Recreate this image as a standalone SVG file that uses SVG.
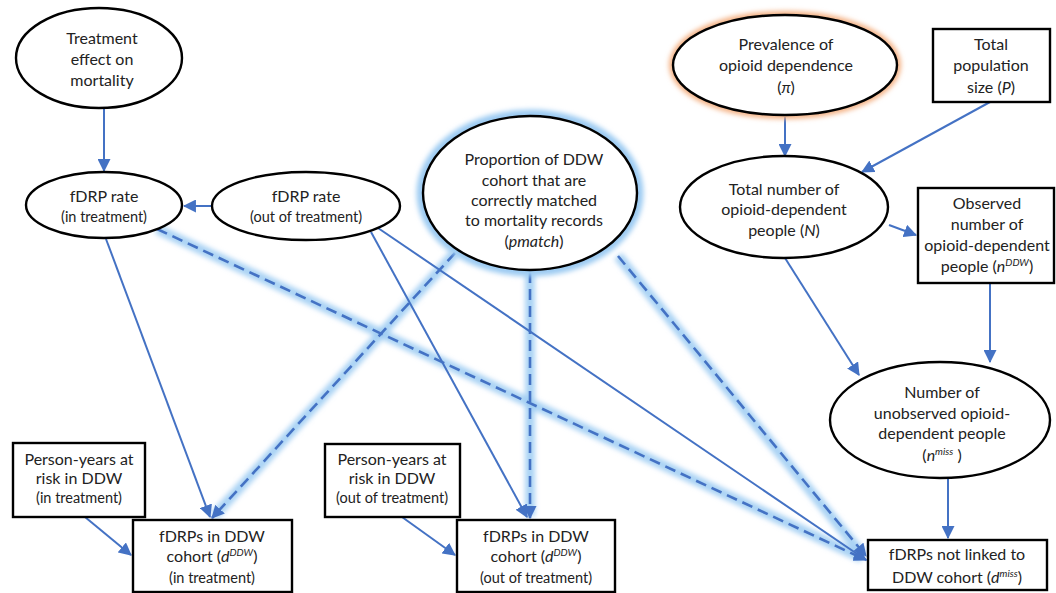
<svg xmlns="http://www.w3.org/2000/svg" width="1056" height="593" viewBox="0 0 1056 593">
<style>
  .node { fill: #ffffff; stroke: #000000; stroke-width: 2.4; }
  .t { font-family: Lato, "Liberation Sans", sans-serif; font-size: 16px; fill: #222222; text-anchor: middle; }
  .s { font-size: 14.5px; }
  .edge { fill: none; stroke: #4472C4; stroke-width: 2; }
  .dash { fill: none; stroke: #4472C4; stroke-width: 2.6; stroke-dasharray: 11 6; }
  .glow { fill: none; stroke: #9CCBF2; stroke-width: 10; opacity: 0.85; }
</style>
<defs>
  <marker id="arr" viewBox="0 0 12 12" refX="11" refY="6" markerWidth="13" markerHeight="13" markerUnits="userSpaceOnUse" orient="auto">
    <path d="M0,0 L12,6 L0,12 Z" fill="#4472C4"/>
  </marker>
  <filter id="blur" x="-20%" y="-20%" width="140%" height="140%">
    <feGaussianBlur stdDeviation="2.4"/>
  </filter>
</defs>

<g id="connectors">
  <g filter="url(#blur)">
    <line class="glow" x1="157" y1="229" x2="862" y2="558"/>
    <line class="glow" x1="455" y1="253" x2="214" y2="516"/>
    <line class="glow" x1="530" y1="272" x2="530" y2="516"/>
    <line class="glow" x1="618" y1="256" x2="862" y2="554"/>
  </g>
  <line class="edge" x1="104" y1="109" x2="104" y2="171" marker-end="url(#arr)"/>
  <line class="edge" x1="212" y1="206" x2="184" y2="206" marker-end="url(#arr)"/>
  <line class="edge" x1="785" y1="117" x2="785" y2="156" marker-end="url(#arr)"/>
  <line class="edge" x1="990" y1="102" x2="862" y2="172" marker-end="url(#arr)"/>
  <line class="edge" x1="889" y1="225" x2="916" y2="235" marker-end="url(#arr)"/>
  <line class="edge" x1="785" y1="258" x2="859" y2="375" marker-end="url(#arr)"/>
  <line class="edge" x1="990" y1="284" x2="990" y2="362" marker-end="url(#arr)"/>
  <line class="edge" x1="948" y1="479" x2="948" y2="538" marker-end="url(#arr)"/>
  <line class="edge" x1="106" y1="239" x2="210" y2="517" marker-end="url(#arr)"/>
  <line class="edge" x1="85" y1="517" x2="131" y2="555" marker-end="url(#arr)"/>
  <line class="edge" x1="402" y1="517" x2="455" y2="555" marker-end="url(#arr)"/>
  <line class="edge" x1="371" y1="232" x2="527" y2="517" marker-end="url(#arr)"/>
  <line class="edge" x1="378" y1="228" x2="866" y2="560" marker-end="url(#arr)"/>
  <line class="dash" x1="157" y1="229" x2="866" y2="560" marker-end="url(#arr)"/>
  <line class="dash" x1="455" y1="253" x2="212" y2="518" marker-end="url(#arr)"/>
  <line class="dash" x1="530" y1="272" x2="530" y2="518" marker-end="url(#arr)"/>
  <line class="dash" x1="618" y1="256" x2="866" y2="556" marker-end="url(#arr)"/>
</g>

<g id="treatment-effect">
  <ellipse class="node" cx="99" cy="58" rx="83" ry="50"/>
  <text class="t" x="102" y="44">Treatment</text>
  <text class="t" x="102" y="65">effect on</text>
  <text class="t" x="102" y="86">mortality</text>
</g>

<g id="fdrp-rate-in">
  <ellipse class="node" cx="104" cy="205" rx="78" ry="33"/>
  <text class="t" x="104" y="202">fDRP rate</text>
  <text class="t s" x="104" y="222">(in treatment)</text>
</g>

<g id="fdrp-rate-out">
  <ellipse class="node" cx="306" cy="206" rx="94" ry="34"/>
  <text class="t" x="306" y="202">fDRP rate</text>
  <text class="t s" x="306" y="222">(out of treatment)</text>
</g>

<g id="pmatch">
  <ellipse cx="530" cy="193" rx="108" ry="78" fill="none" stroke="#9CCBF2" stroke-width="11" filter="url(#blur)"/>
  <ellipse class="node" cx="530" cy="193" rx="107" ry="77"/>
  <text class="t" x="534" y="165">Proportion of DDW</text>
  <text class="t" x="534" y="186">cohort that are</text>
  <text class="t" x="534" y="206">correctly matched</text>
  <text class="t" x="534" y="226">to mortality records</text>
  <text class="t" x="534" y="247">(<tspan font-style="italic">pmatch</tspan>)</text>
</g>

<g id="prevalence">
  <ellipse cx="785" cy="65" rx="112" ry="50" fill="none" stroke="#F4B183" stroke-width="8" filter="url(#blur)"/>
  <ellipse class="node" cx="785" cy="65" rx="112" ry="50"/>
  <text class="t" x="786" y="50">Prevalence of</text>
  <text class="t" x="786" y="71">opioid dependence</text>
  <text class="t" x="786" y="93">(<tspan font-style="italic">π</tspan>)</text>
</g>

<g id="total-population">
  <rect class="node" x="933" y="29" width="117" height="73"/>
  <text class="t" x="991" y="50">Total</text>
  <text class="t" x="991" y="71">population</text>
  <text class="t" x="991" y="93">size (<tspan font-style="italic">P</tspan>)</text>
</g>

<g id="total-number">
  <ellipse class="node" cx="784" cy="207" rx="104" ry="51"/>
  <text class="t" x="784" y="195">Total number of</text>
  <text class="t" x="784" y="215">opioid-dependent</text>
  <text class="t" x="784" y="236">people (<tspan font-style="italic">N</tspan>)</text>
</g>

<g id="observed">
  <rect class="node" x="918" y="188" width="136" height="95"/>
  <text class="t" x="987" y="209">Observed</text>
  <text class="t" x="987" y="230">number of</text>
  <text class="t" x="987" y="251">opioid-dependent</text>
  <text class="t" x="987" y="272">people (<tspan font-style="italic">n<tspan font-size="10" dy="-6">DDW</tspan></tspan><tspan dy="6">)</tspan></text>
</g>

<g id="unobserved">
  <ellipse class="node" cx="940" cy="420" rx="110" ry="58"/>
  <text class="t" x="942" y="398">Number of</text>
  <text class="t" x="942" y="419">unobserved opioid-</text>
  <text class="t" x="942" y="439">dependent people</text>
  <text class="t" x="942" y="461">(<tspan font-style="italic">n<tspan font-size="10" dy="-6">miss</tspan></tspan><tspan dy="6"> )</tspan></text>
</g>

<g id="not-linked">
  <rect class="node" x="868" y="540" width="179" height="50"/>
  <text class="t" x="957" y="560">fDRPs not linked to</text>
  <text class="t" x="957" y="583">DDW cohort (<tspan font-style="italic">d<tspan font-size="10" dy="-6">miss</tspan></tspan><tspan dy="6">)</tspan></text>
</g>

<g id="person-years-in">
  <rect class="node" x="13" y="443" width="132" height="74"/>
  <text class="t" x="79" y="465">Person-years at</text>
  <text class="t" x="79" y="484">risk in DDW</text>
  <text class="t s" x="79" y="503">(in treatment)</text>
</g>

<g id="fdrps-ddw-in">
  <rect class="node" x="133" y="520" width="159" height="72"/>
  <text class="t" x="212" y="542">fDRPs in DDW</text>
  <text class="t" x="212" y="562">cohort (<tspan font-style="italic">d<tspan font-size="10" dy="-6">DDW</tspan></tspan><tspan dy="6">)</tspan></text>
  <text class="t s" x="212" y="583">(in treatment)</text>
</g>

<g id="person-years-out">
  <rect class="node" x="325" y="444" width="135" height="73"/>
  <text class="t" x="392" y="465">Person-years at</text>
  <text class="t" x="392" y="484">risk in DDW</text>
  <text class="t s" x="392" y="503">(out of treatment)</text>
</g>

<g id="fdrps-ddw-out">
  <rect class="node" x="457" y="520" width="158" height="72"/>
  <text class="t" x="536" y="542">fDRPs in DDW</text>
  <text class="t" x="536" y="562">cohort (<tspan font-style="italic">d<tspan font-size="10" dy="-6">DDW</tspan></tspan><tspan dy="6">)</tspan></text>
  <text class="t s" x="536" y="583">(out of treatment)</text>
</g>
</svg>
